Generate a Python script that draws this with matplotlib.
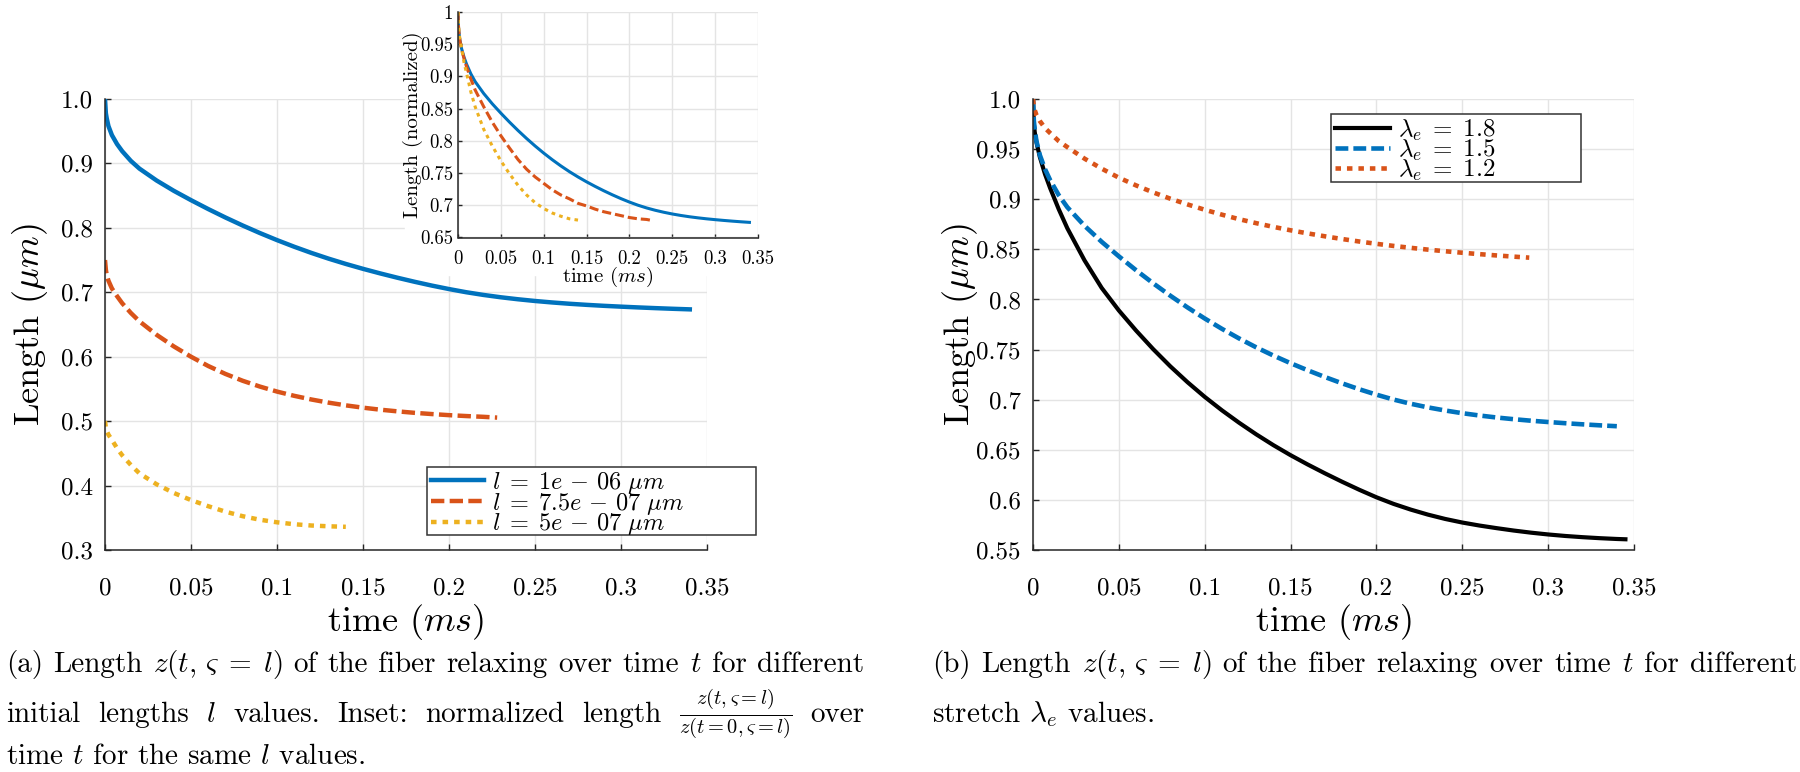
import matplotlib
matplotlib.use("Agg")
import matplotlib.pyplot as plt
from matplotlib.patches import Rectangle

plt.rcParams['font.family'] = 'serif'
plt.rcParams['font.serif'] = ['cmr10']
plt.rcParams['mathtext.fontset'] = 'cm'
plt.rcParams['axes.unicode_minus'] = False

# ---- data ----
# shared time grids (ms)
t_a = [0, 0.0005, 0.001, 0.002, 0.004, 0.007, 0.01, 0.015, 0.02, 0.03, 0.04, 0.05, 0.06, 0.07, 0.08, 0.09,
       0.1, 0.11, 0.12, 0.13, 0.14, 0.15, 0.16, 0.17, 0.18, 0.19, 0.2, 0.21, 0.22, 0.23, 0.24, 0.25,
       0.26, 0.27, 0.28, 0.29, 0.3, 0.31, 0.32, 0.33, 0.34]

# (a) main panel, length in um
t_l1 = t_a
z_l1 = [1.0, 0.978, 0.970, 0.958, 0.944, 0.930, 0.919, 0.904, 0.892, 0.8735, 0.8575, 0.843, 0.8292, 0.8161,
        0.8037, 0.7920, 0.7810, 0.7707, 0.7611, 0.7522, 0.7440, 0.7364, 0.7293, 0.7226, 0.7163, 0.7104,
        0.7050, 0.7001, 0.6959, 0.6923, 0.6892, 0.6865, 0.6842, 0.6822, 0.6805, 0.6790, 0.6777, 0.6765,
        0.6754, 0.6744, 0.6735]
t_l2 = [0, 0.0005, 0.001, 0.002, 0.004, 0.007, 0.01, 0.015, 0.02, 0.03, 0.04, 0.05, 0.06, 0.07, 0.08, 0.09,
        0.1, 0.11, 0.12, 0.13, 0.14, 0.15, 0.16, 0.17, 0.18, 0.19, 0.2, 0.21, 0.22, 0.228]
z_l2 = [0.75, 0.735, 0.727, 0.718, 0.706, 0.694, 0.683, 0.668, 0.655, 0.634, 0.616, 0.600, 0.5856, 0.5733,
        0.5627, 0.5537, 0.5459, 0.5393, 0.5336, 0.5287, 0.5245, 0.5209, 0.5178, 0.5152, 0.5129, 0.5110,
        0.5093, 0.5079, 0.5067, 0.5055]
t_l3 = [0, 0.0005, 0.001, 0.002, 0.004, 0.007, 0.01, 0.015, 0.02, 0.03, 0.04, 0.05, 0.06, 0.07, 0.08, 0.09,
        0.1, 0.11, 0.12, 0.13, 0.14]
z_l3 = [0.5, 0.49, 0.485, 0.479, 0.471, 0.458, 0.447, 0.432, 0.419, 0.402, 0.3885, 0.3775, 0.368, 0.3595,
        0.3525, 0.347, 0.343, 0.340, 0.338, 0.3368, 0.336]
labels_l = [r'$l\;=\;1e\,-\,06\ \mu m$', r'$l\;=\;7.5e\,-\,07\ \mu m$', r'$l\;=\;5e\,-\,07\ \mu m$']

# (a) inset, normalized length (same time grids as above)
n_l1 = z_l1
n_l2 = [1.0, 0.98, 0.97, 0.958, 0.943, 0.928, 0.915, 0.896, 0.879, 0.853, 0.829, 0.808, 0.789, 0.771,
        0.756, 0.744, 0.734, 0.724, 0.716, 0.710, 0.703, 0.699, 0.694, 0.690, 0.687, 0.684, 0.681,
        0.679, 0.678, 0.676]
n_l3 = [1.0, 0.982, 0.972, 0.96, 0.945, 0.922, 0.905, 0.876, 0.853, 0.818, 0.792, 0.769, 0.749, 0.731,
        0.716, 0.704, 0.695, 0.688, 0.683, 0.679, 0.677]

# (b) different stretch values
t_s1 = [0, 0.0005, 0.001, 0.002, 0.004, 0.007, 0.01, 0.015, 0.02, 0.03, 0.04, 0.05, 0.06, 0.07, 0.08, 0.09,
        0.1, 0.11, 0.12, 0.13, 0.14, 0.15, 0.16, 0.17, 0.18, 0.19, 0.2, 0.21, 0.22, 0.23, 0.24, 0.25,
        0.26, 0.27, 0.28, 0.29, 0.3, 0.31, 0.32, 0.33, 0.34, 0.345]
z_s1 = [1.0, 0.975, 0.967, 0.957, 0.942, 0.925, 0.911, 0.890, 0.871, 0.839, 0.8115, 0.789, 0.769, 0.7504,
        0.7332, 0.7174, 0.7028, 0.6894, 0.6770, 0.6654, 0.6546, 0.6446, 0.6353, 0.6265, 0.6181, 0.6101,
        0.6026, 0.5960, 0.5903, 0.5853, 0.5810, 0.5774, 0.5744, 0.5718, 0.5694, 0.5673, 0.5655, 0.5640,
        0.5628, 0.5618, 0.5610, 0.5607]
t_s2 = t_a
z_s2 = [1.0, 0.978, 0.970, 0.958, 0.944, 0.930, 0.919, 0.904, 0.892, 0.8735, 0.8575, 0.843, 0.8292, 0.8161,
        0.8037, 0.7920, 0.7810, 0.7707, 0.7611, 0.7522, 0.7440, 0.7364, 0.7293, 0.7226, 0.7163, 0.7104,
        0.7050, 0.7001, 0.6959, 0.6923, 0.6892, 0.6865, 0.6842, 0.6822, 0.6805, 0.6790, 0.6777, 0.6765,
        0.6754, 0.6744, 0.6735]
t_s3 = [0, 0.0005, 0.001, 0.002, 0.004, 0.007, 0.01, 0.015, 0.02, 0.03, 0.04, 0.05, 0.06, 0.07, 0.08, 0.09,
        0.1, 0.11, 0.12, 0.13, 0.14, 0.15, 0.16, 0.17, 0.18, 0.19, 0.2, 0.21, 0.22, 0.23, 0.24, 0.25,
        0.26, 0.27, 0.28, 0.289]
z_s3 = [1.0, 0.993, 0.989, 0.984, 0.978, 0.971, 0.966, 0.958, 0.952, 0.9405, 0.9305, 0.9215, 0.9138, 0.9068,
        0.9005, 0.8948, 0.8895, 0.8846, 0.8801, 0.8761, 0.8724, 0.869, 0.8659, 0.863, 0.8603, 0.8578,
        0.8555, 0.8534, 0.8515, 0.8497, 0.8481, 0.8466, 0.8452, 0.8439, 0.8427, 0.8417]
labels_s = [r'$\lambda_e\;=\;1.8$', r'$\lambda_e\;=\;1.5$', r'$\lambda_e\;=\;1.2$']

xticks = [0, 0.05, 0.1, 0.15, 0.2, 0.25, 0.3, 0.35]
xticklabels = ['0', '0.05', '0.1', '0.15', '0.2', '0.25', '0.3', '0.35']
yticks_a = [0.3, 0.4, 0.5, 0.6, 0.7, 0.8, 0.9, 1.0]
yticklabels_a = ['0.3', '0.4', '0.5', '0.6', '0.7', '0.8', '0.9', '1.0']
yticks_b = [0.55, 0.6, 0.65, 0.7, 0.75, 0.8, 0.85, 0.9, 0.95, 1.0]
yticklabels_b = ['0.55', '0.6', '0.65', '0.7', '0.75', '0.8', '0.85', '0.9', '0.95', '1.0']
yticks_in = [0.65, 0.7, 0.75, 0.8, 0.85, 0.9, 0.95, 1.0]
yticklabels_in = ['0.65', '0.7', '0.75', '0.8', '0.85', '0.9', '0.95', '1']

blue = '#0072BD'
orange = '#D95319'
yellow = '#EDB120'

W, H = 1800, 772
fig = plt.figure(figsize=(18, 7.72), dpi=100)


def frame(ax, xt, xtl, yt, ytl, size, xpad, ypad, ticklen):
    ax.set_xticks(xt)
    ax.set_xticklabels(xtl)
    ax.set_yticks(yt)
    ax.set_yticklabels(ytl)
    ax.tick_params(direction='in', length=ticklen, width=1, color='0.15',
                   labelsize=size, top=False, right=False)
    ax.tick_params(axis='x', pad=xpad)
    ax.tick_params(axis='y', pad=ypad)
    for s in ['top', 'right']:
        ax.spines[s].set_visible(False)
    for s in ['left', 'bottom']:
        ax.spines[s].set_color('0.15')
        ax.spines[s].set_linewidth(1.1)
    ax.grid(True, color='#e4e4e4', lw=1.0)
    ax.set_axisbelow(True)


def px_axes(x0, y0, x1, y1):
    return fig.add_axes([x0 / W, 1 - y1 / H, (x1 - x0) / W, (y1 - y0) / H])


def box_legend(ax, labels, x0, y0, x1, y1, size, dy):
    # box drawn separately so it can be wider than the entries, as in the original
    ax.add_patch(Rectangle((x0 / W, 1 - y1 / H), (x1 - x0) / W, (y1 - y0) / H,
                           transform=fig.transFigure, facecolor='white', edgecolor='0.2',
                           lw=1.1, zorder=4, clip_on=False))
    leg = ax.legend(ax.get_lines(), labels,
                    loc='upper left', bbox_to_anchor=((x0 + 4) / W, 1 - (y0 + dy) / H),
                    bbox_transform=fig.transFigure, fontsize=size, frameon=False,
                    borderpad=0, labelspacing=-0.22, handlelength=2.2,
                    handletextpad=0.3, borderaxespad=0)
    leg.set_zorder(5)
    return leg


# ---- (a) main ----
ax1 = px_axes(105, 99, 707, 550)
ax1.plot(t_l1, z_l1, color=blue, lw=3.2)
ax1.plot(t_l2, z_l2, color=orange, lw=3.2, ls=(0, (3.0, 1.2)), dash_capstyle='butt')
ax1.plot(t_l3, z_l3, color=yellow, lw=3.2, ls=(0, (1.25, 1.35)), dash_capstyle='butt')
ax1.set_xlim(0, 0.35)
ax1.set_ylim(0.3, 1.0)
frame(ax1, xticks, xticklabels, yticks_a, yticklabels_a, 18, 20, 9, 4)
ax1.set_xlabel(r'time $(ms)$', fontsize=26)
ax1.xaxis.set_label_coords(0.5, -0.115)
ax1.set_ylabel(r'Length $(\mu m)$', fontsize=26)
ax1.yaxis.set_label_coords(-0.092, 0.5)
box_legend(ax1, labels_l, 427, 467, 756, 535, 17.5, 3)

# white area behind the inset
fig.add_artist(Rectangle((405 / W, 1 - 275 / H), 400 / W, 275 / H,
                         transform=fig.transFigure, color='white', zorder=1))

# ---- (a) inset ----
axi = px_axes(458, 12, 758, 237.5)
axi.set_zorder(2)
axi.plot(t_l1, n_l1, color=blue, lw=2.2)
axi.plot(t_l2, n_l2, color=orange, lw=2.2, ls=(0, (3.0, 1.3)), dash_capstyle='butt')
axi.plot(t_l3, n_l3, color=yellow, lw=2.2, ls=(0, (1.2, 1.4)), dash_capstyle='butt')
axi.set_xlim(0, 0.35)
axi.set_ylim(0.65, 1.0)
frame(axi, xticks, xticklabels, yticks_in, yticklabels_in, 13.5, 9, 3.5, 3)
axi.set_xlabel(r'time $(ms)$', fontsize=15)
axi.xaxis.set_label_coords(0.5, -0.12)
axi.set_ylabel('Length (normalized)', fontsize=15)
axi.yaxis.set_label_coords(-0.115, 0.5)

# ---- (b) ----
ax2 = px_axes(1033, 99, 1634, 550)
ax2.plot(t_s1, z_s1, color='black', lw=3.0)
ax2.plot(t_s2, z_s2, color=blue, lw=3.3, ls=(0, (2.8, 1.1)), dash_capstyle='butt')
ax2.plot(t_s3, z_s3, color=orange, lw=3.3, ls=(0, (1.2, 1.3)), dash_capstyle='butt')
ax2.set_xlim(0, 0.35)
ax2.set_ylim(0.55, 1.0)
frame(ax2, xticks, xticklabels, yticks_b, yticklabels_b, 18, 20, 9, 4)
ax2.set_xlabel(r'time $(ms)$', fontsize=26)
ax2.xaxis.set_label_coords(0.5, -0.115)
ax2.set_ylabel(r'Length $(\mu m)$', fontsize=26)
ax2.yaxis.set_label_coords(-0.088, 0.5)
box_legend(ax2, labels_s, 1331, 114, 1581, 182, 18, 4)

# ---- captions ----
renderer = fig.canvas.get_renderer()


def justify(words, x0, x1, base, size):
    texts = [fig.text(0, 1 - base / H, w, fontsize=size, va='baseline', ha='left') for w in words]
    widths = [t.get_window_extent(renderer).width for t in texts]
    gap = (x1 - x0 - sum(widths)) / (len(words) - 1)
    x = x0
    for t, w in zip(texts, widths):
        t.set_x(x / W)
        x += w + gap


cap_size = 21
zl = r'$z(t,\,\varsigma\;=\;l)$'
justify(['(a)', 'Length', zl, 'of', 'the', 'fiber', 'relaxing', 'over',
         'time', '$t$', 'for', 'different'], 6, 864, 672, cap_size)
justify(['initial', 'lengths', '$l$', 'values.', 'Inset:', 'normalized', 'length',
         r'$\frac{z(t,\varsigma=l)}{z(t=0,\varsigma=l)}$', 'over'], 6, 864, 722, cap_size)
fig.text(6 / W, 1 - 764 / H, r'time $t$ for the same $l$ values.', fontsize=cap_size, va='baseline')
justify(['(b)', 'Length', zl, 'of', 'the', 'fiber', 'relaxing', 'over',
         'time', '$t$', 'for', 'different'], 932, 1797, 672, cap_size)
fig.text(932 / W, 1 - 722 / H, r'stretch $\lambda_e$ values.', fontsize=cap_size, va='baseline')

fig.savefig('out.png', dpi=100)
